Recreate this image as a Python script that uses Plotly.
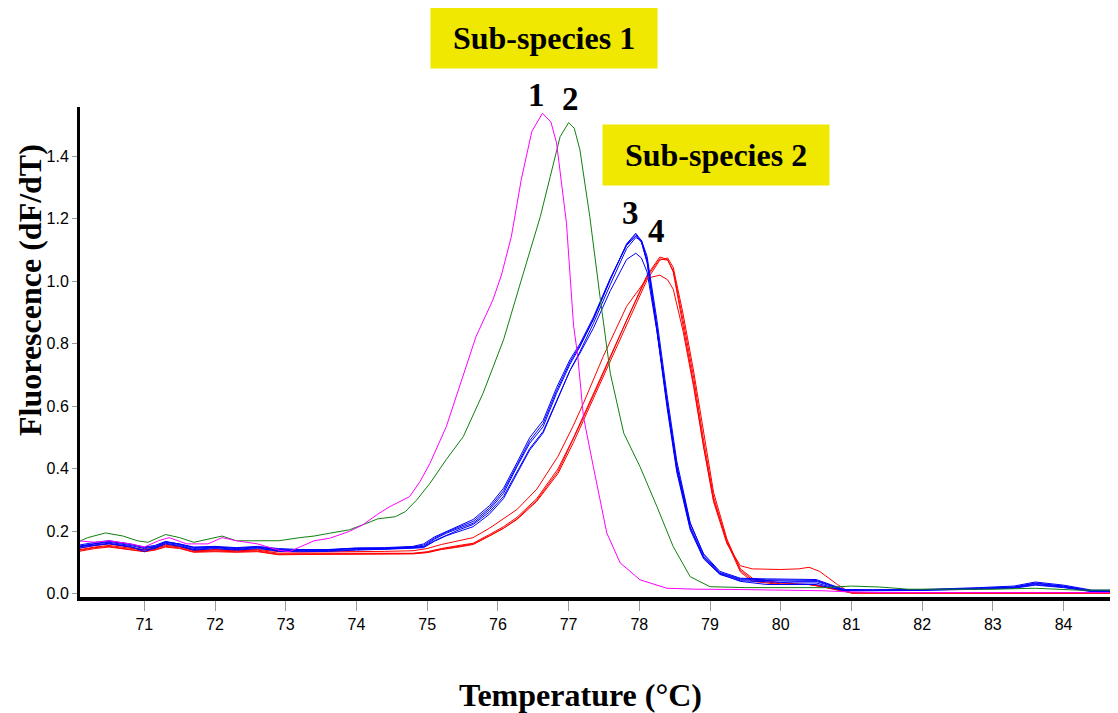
import plotly.graph_objects as go

# ---------- data ----------
x_ticks = [71, 72, 73, 74, 75, 76, 77, 78, 79, 80, 81, 82, 83, 84]
y_ticks = [0.0, 0.2, 0.4, 0.6, 0.8, 1.0, 1.2, 1.4]
y_tick_text = ["0.0", "0.2", "0.4", "0.6", "0.8", "1.0", "1.2", "1.4"]

magenta_temp = [70.05, 70.3, 70.5, 70.8, 71.0, 71.2, 71.35, 71.6, 71.9, 72.1, 72.3, 72.6, 72.9, 73.05,
                73.2, 73.4, 73.62, 73.9, 74.09, 74.3, 74.47, 74.6, 74.75, 74.9, 75.04, 75.27, 75.46,
                75.69, 75.93, 76.05, 76.19, 76.33, 76.48, 76.63, 76.75, 76.83, 76.97, 77.07, 77.13,
                77.21, 77.35, 77.54, 77.73, 78.01, 78.39, 78.8, 79.4, 80.0, 80.6, 81.0, 81.5, 82.5,
                83.5, 84.8]
magenta_vals = [0.170, 0.165, 0.170, 0.160, 0.150, 0.170, 0.180, 0.160, 0.160, 0.180, 0.170, 0.160,
                0.140, 0.135, 0.150, 0.170, 0.178, 0.200, 0.221, 0.255, 0.279, 0.295, 0.311, 0.360,
                0.418, 0.535, 0.663, 0.823, 0.941, 1.020, 1.143, 1.325, 1.480, 1.538, 1.510, 1.443,
                1.186, 0.860, 0.760, 0.567, 0.407, 0.195, 0.099, 0.045, 0.018, 0.015, 0.014, 0.012,
                0.010, 0.006, 0.004, 0.004, 0.004, 0.004]

green_temp = [70.05, 70.2, 70.45, 70.7, 70.9, 71.05, 71.3, 71.5, 71.7, 71.9, 72.1, 72.3, 72.6, 72.9,
              73.2, 73.4, 73.62, 73.9, 74.09, 74.3, 74.55, 74.69, 74.85, 75.04, 75.27, 75.51, 75.79,
              76.08, 76.36, 76.6, 76.74, 76.88, 77.0, 77.08, 77.16, 77.3, 77.45, 77.59, 77.78, 78.01,
              78.25, 78.48, 78.72, 79.0, 79.5, 80.0, 80.6, 81.0, 81.4, 81.8, 82.5, 83.0, 83.6, 84.2,
              84.8]
green_vals = [0.165, 0.180, 0.195, 0.185, 0.170, 0.165, 0.190, 0.180, 0.165, 0.175, 0.185, 0.170,
              0.170, 0.170, 0.180, 0.185, 0.194, 0.205, 0.221, 0.240, 0.247, 0.263, 0.300, 0.354,
              0.430, 0.503, 0.642, 0.813, 1.026, 1.207, 1.335, 1.463, 1.508, 1.490, 1.421, 1.207,
              0.941, 0.706, 0.514, 0.407, 0.279, 0.151, 0.055, 0.023, 0.020, 0.020, 0.020, 0.025,
              0.022, 0.015, 0.015, 0.015, 0.018, 0.012, 0.012]

blue_temp = [70.05, 70.3, 70.5, 70.8, 71.0, 71.15, 71.3, 71.5, 71.7, 72.0, 72.3, 72.6, 72.9, 73.2,
             73.6, 74.0, 74.4, 74.8, 74.95, 75.1, 75.27, 75.45, 75.65, 75.88, 76.08, 76.27, 76.45,
             76.64, 76.83, 77.02, 77.16, 77.35, 77.59, 77.82, 77.95, 78.03, 78.11, 78.25, 78.39,
             78.53, 78.72, 78.91, 79.14, 79.43, 79.8, 80.2, 80.5, 80.7, 80.9, 81.3, 82.0, 82.8,
             83.3, 83.6, 84.0, 84.4, 84.8]
blue_1 = [0.150, 0.160, 0.165, 0.155, 0.145, 0.150, 0.165, 0.158, 0.145, 0.150, 0.145, 0.150, 0.140,
          0.140, 0.140, 0.145, 0.145, 0.150, 0.152, 0.175, 0.194, 0.210, 0.226, 0.269, 0.322, 0.407,
          0.482, 0.535, 0.642, 0.735, 0.791, 0.877, 1.005, 1.120, 1.154, 1.130, 1.069, 0.855, 0.621,
          0.407, 0.215, 0.119, 0.066, 0.045, 0.042, 0.040, 0.040, 0.025, 0.012, 0.012, 0.013, 0.018,
          0.022, 0.035, 0.025, 0.010, 0.010]
blue_2 = [0.155, 0.165, 0.170, 0.160, 0.150, 0.155, 0.168, 0.160, 0.150, 0.152, 0.148, 0.152, 0.145,
          0.142, 0.142, 0.147, 0.148, 0.152, 0.160, 0.182, 0.200, 0.218, 0.238, 0.282, 0.338, 0.420,
          0.500, 0.555, 0.660, 0.750, 0.800, 0.885, 1.010, 1.115, 1.145, 1.125, 1.060, 0.840, 0.600,
          0.390, 0.205, 0.112, 0.062, 0.042, 0.038, 0.035, 0.035, 0.022, 0.010, 0.011, 0.012, 0.016,
          0.020, 0.030, 0.022, 0.008, 0.008]
blue_3 = [0.145, 0.155, 0.160, 0.150, 0.140, 0.145, 0.160, 0.152, 0.140, 0.145, 0.140, 0.145, 0.138,
          0.138, 0.138, 0.142, 0.143, 0.148, 0.150, 0.170, 0.188, 0.205, 0.222, 0.262, 0.312, 0.392,
          0.465, 0.520, 0.620, 0.715, 0.770, 0.850, 0.970, 1.070, 1.090, 1.075, 1.030, 0.840, 0.615,
          0.410, 0.225, 0.128, 0.072, 0.050, 0.048, 0.047, 0.046, 0.030, 0.014, 0.013, 0.014, 0.020,
          0.025, 0.038, 0.028, 0.012, 0.012]
blue_4 = [0.150, 0.158, 0.162, 0.152, 0.135, 0.148, 0.162, 0.155, 0.142, 0.148, 0.142, 0.148, 0.136,
          0.135, 0.136, 0.140, 0.142, 0.146, 0.148, 0.168, 0.186, 0.200, 0.215, 0.255, 0.305, 0.385,
          0.460, 0.515, 0.615, 0.715, 0.775, 0.865, 0.990, 1.105, 1.140, 1.132, 1.080, 0.875, 0.640,
          0.425, 0.228, 0.125, 0.068, 0.048, 0.045, 0.043, 0.043, 0.028, 0.013, 0.012, 0.013, 0.017,
          0.021, 0.033, 0.024, 0.009, 0.009]
blue_5 = [0.152, 0.162, 0.168, 0.158, 0.148, 0.152, 0.166, 0.160, 0.148, 0.150, 0.146, 0.150, 0.142,
          0.140, 0.141, 0.146, 0.146, 0.150, 0.156, 0.178, 0.197, 0.214, 0.232, 0.275, 0.330, 0.412,
          0.490, 0.545, 0.650, 0.742, 0.795, 0.880, 1.008, 1.118, 1.150, 1.128, 1.064, 0.848, 0.610,
          0.398, 0.210, 0.115, 0.064, 0.040, 0.030, 0.030, 0.030, 0.020, 0.010, 0.010, 0.011, 0.015,
          0.018, 0.028, 0.020, 0.007, 0.007]

red_temp = [70.05, 70.3, 70.5, 70.8, 71.0, 71.15, 71.3, 71.5, 71.7, 72.0, 72.3, 72.6, 72.9, 73.2,
            73.6, 74.0, 74.4, 74.8, 75.0, 75.2, 75.45, 75.65, 75.88, 76.08, 76.27, 76.55, 76.85,
            77.07, 77.21, 77.49, 77.82, 78.11, 78.29, 78.40, 78.48, 78.62, 78.77, 78.91, 79.05,
            79.24, 79.43, 79.6, 80.0, 80.25, 80.4, 80.55, 80.8, 81.0, 81.5, 82.5, 83.5, 84.8]
red_1 = [0.140, 0.150, 0.155, 0.145, 0.140, 0.145, 0.155, 0.150, 0.138, 0.140, 0.138, 0.140, 0.130,
         0.130, 0.130, 0.130, 0.130, 0.130, 0.135, 0.145, 0.155, 0.162, 0.190, 0.215, 0.245, 0.305,
         0.400, 0.500, 0.570, 0.710, 0.880, 1.020, 1.078, 1.070, 1.030, 0.860, 0.670, 0.470, 0.295,
         0.160, 0.090, 0.080, 0.078, 0.080, 0.085, 0.072, 0.030, 0.002, 0.002, 0.002, 0.002, 0.002]
red_2 = [0.135, 0.145, 0.150, 0.140, 0.135, 0.140, 0.150, 0.145, 0.133, 0.135, 0.133, 0.135, 0.125,
         0.126, 0.127, 0.127, 0.128, 0.128, 0.132, 0.142, 0.150, 0.158, 0.185, 0.210, 0.240, 0.300,
         0.392, 0.495, 0.565, 0.705, 0.875, 1.015, 1.072, 1.068, 1.035, 0.875, 0.690, 0.490, 0.310,
         0.165, 0.070, 0.040, 0.030, 0.030, 0.030, 0.025, 0.015, 0.004, 0.003, 0.003, 0.003, 0.003]
red_3 = [0.145, 0.155, 0.160, 0.150, 0.142, 0.148, 0.158, 0.152, 0.140, 0.142, 0.140, 0.142, 0.135,
         0.134, 0.134, 0.135, 0.136, 0.138, 0.145, 0.158, 0.170, 0.180, 0.210, 0.240, 0.270, 0.335,
         0.440, 0.540, 0.610, 0.760, 0.920, 1.010, 1.020, 1.005, 0.975, 0.840, 0.660, 0.470, 0.300,
         0.170, 0.080, 0.050, 0.035, 0.032, 0.030, 0.025, 0.012, 0.004, 0.004, 0.004, 0.004, 0.004]
red_4 = [0.138, 0.148, 0.152, 0.142, 0.136, 0.142, 0.152, 0.147, 0.135, 0.137, 0.135, 0.137, 0.127,
         0.127, 0.128, 0.128, 0.129, 0.129, 0.133, 0.143, 0.152, 0.160, 0.186, 0.210, 0.238, 0.296,
         0.385, 0.485, 0.555, 0.695, 0.865, 1.005, 1.068, 1.075, 1.045, 0.895, 0.710, 0.510, 0.325,
         0.175, 0.075, 0.045, 0.032, 0.030, 0.030, 0.024, 0.012, 0.003, 0.003, 0.003, 0.003, 0.003]

# peak labels: (text, temperature, value, extra lift in px)
peak_labels = [("1", 76.55, 1.52, 24), ("2", 77.03, 1.52, 20), ("3", 77.87, 1.22, 0), ("4", 78.25, 1.16, 0)]

# ---------- figure ----------
fig = go.Figure()

for vals in [red_1, red_2, red_3, red_4]:
    fig.add_trace(go.Scatter(x=red_temp, y=vals, mode="lines",
                             line=dict(color="#ff0000", width=1)))
for vals in [blue_1, blue_2, blue_3, blue_4, blue_5]:
    fig.add_trace(go.Scatter(x=blue_temp, y=vals, mode="lines",
                             line=dict(color="#0000ff", width=1)))
fig.add_trace(go.Scatter(x=green_temp, y=green_vals, mode="lines",
                         line=dict(color="#108010", width=1)))
fig.add_trace(go.Scatter(x=magenta_temp, y=magenta_vals, mode="lines",
                         line=dict(color="#ff00ff", width=1)))

serif = "Times New Roman, Liberation Serif, serif"
tickfont = dict(family="Liberation Sans Narrow, Arial Narrow, Liberation Sans, Arial", size=16, color="black")

annotations = []
for txt, t, v, lift in peak_labels:
    annotations.append(dict(x=t, y=v, xref="x", yref="y", yshift=lift, text="<b>%s</b>" % txt,
                            showarrow=False, xanchor="center", yanchor="middle",
                            font=dict(family=serif, size=33, color="black")))

for txt, px, py in [("Sub-species 1", 0.447, 1.141), ("Sub-species 2", 0.613, 0.902)]:
    annotations.append(dict(x=px, y=py, xref="paper", yref="paper", text="<b>%s</b>" % txt,
                            showarrow=False, bgcolor="#f0e800", width=224, height=58, borderpad=1,
                            xanchor="center", yanchor="middle",
                            font=dict(family=serif, size=32, color="black")))

annotations.append(dict(x=0.482, y=-0.2, xref="paper", yref="paper", text="<b>Temperature (°C)</b>",
                        showarrow=False, xanchor="center", yanchor="middle",
                        font=dict(family=serif, size=32, color="black")))
annotations.append(dict(x=-0.048, y=0.627, xref="paper", yref="paper", text="<b>Fluorescence (dF/dT)</b>",
                        showarrow=False, textangle=-90, xanchor="center", yanchor="middle",
                        font=dict(family=serif, size=32, color="black")))

# the page body has an 8px margin, so the figure is made 8px smaller and shifted
fig.update_layout(
    width=1110, height=705,
    margin=dict(l=72, r=0, t=99, b=116),
    plot_bgcolor="white", paper_bgcolor="white",
    showlegend=False,
    annotations=annotations,
)
fig.update_xaxes(range=[70.09, 84.77], tickvals=x_ticks, ticks="outside", ticklen=10, tickcolor="#999999",
                 tickwidth=1, showline=True, linecolor="black", linewidth=4, showgrid=False, zeroline=False,
                 tickfont=tickfont)
fig.update_yaxes(range=[-0.01, 1.558], tickvals=y_ticks, ticktext=y_tick_text, ticks="outside", ticklen=5,
                 tickcolor="#999999", tickwidth=1, showline=True, linecolor="black", linewidth=3,
                 showgrid=False, zeroline=False, tickfont=tickfont)

fig.write_html("out.html")
